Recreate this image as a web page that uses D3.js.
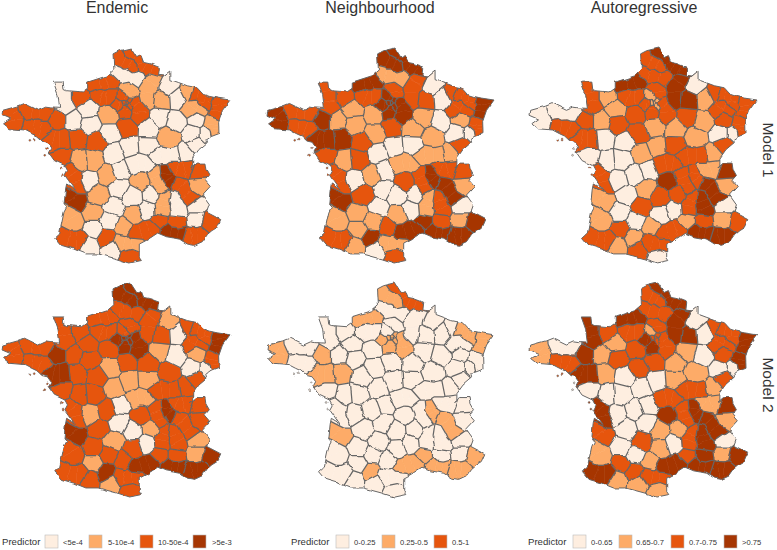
<!DOCTYPE html>
<html>
<head>
<meta charset="utf-8">
<script src="https://cdnjs.cloudflare.com/ajax/libs/d3/7.8.5/d3.min.js"></script>
<style>
  html, body { margin: 0; padding: 0; background: #fff; }
  svg { display: block; font-family: "Liberation Sans", Arial, sans-serif; }
</style>
</head>
<body>
<script>
// department centre points: [id, lon, lat]
const departments = [
  [1,5.35,46.1],[2,3.55,49.55],[3,3.2,46.4],[4,6.25,44.1],[5,6.25,44.65],[6,7.1,43.95],[7,4.4,44.75],[8,4.65,49.6],
  [9,1.5,42.95],[10,4.15,48.3],[11,2.4,43.1],[12,2.7,44.3],[13,5.1,43.55],[14,-0.35,49.1],[15,2.65,45.05],[16,0.2,45.7],
  [17,-0.75,45.8],[18,2.5,47.05],[19,1.9,45.35],[21,4.75,47.45],[22,-2.85,48.45],[23,2.0,46.1],[24,0.75,45.1],[25,6.35,47.15],
  [26,5.15,44.7],[27,1.0,49.1],[28,1.35,48.4],[29,-4.05,48.25],[30,4.2,44.0],[31,1.2,43.35],[32,0.45,43.7],[33,-0.6,44.85],
  [34,3.4,43.6],[35,-1.65,48.15],[36,1.6,46.8],[37,0.7,47.25],[38,5.6,45.25],[39,5.7,46.75],[40,-0.75,44.0],[41,1.4,47.6],
  [42,4.15,45.7],[43,3.8,45.1],[44,-1.7,47.35],[45,2.35,47.9],[46,1.6,44.6],[47,0.45,44.35],[48,3.5,44.5],[49,-0.55,47.4],
  [50,-1.3,49.1],[51,4.25,48.95],[52,5.2,48.1],[53,-0.65,48.15],[54,6.15,48.75],[55,5.35,49.0],[56,-2.8,47.85],[57,6.65,49.05],
  [58,3.5,47.1],[59,3.25,50.4],[60,2.45,49.4],[61,0.1,48.6],[62,2.3,50.5],[63,3.15,45.7],[64,-0.75,43.25],[65,0.15,43.05],
  [66,2.55,42.6],[67,7.55,48.65],[68,7.25,47.85],[69,4.6,45.85],[70,6.1,47.6],[71,4.55,46.65],[72,0.2,48.0],[73,6.45,45.5],
  [74,6.4,46.05],[75,2.35,48.86],[76,1.0,49.65],[77,2.95,48.6],[78,1.85,48.8],[79,-0.35,46.5],[80,2.3,49.95],[81,2.15,43.8],
  [82,1.3,44.05],[83,6.2,43.45],[84,5.2,44.0],[85,-1.3,46.65],[86,0.45,46.55],[87,1.25,45.9],[88,6.35,48.2],[89,3.55,47.85],
  [90,6.95,47.6],[91,2.25,48.5],[92,2.23,48.85],[93,2.47,48.93],[94,2.47,48.77],[95,2.15,49.08]
];

// more points for long or ring shaped departments
const extraPoints = [
  [78,1.98,48.78],[95,2.3,49.03],[77,2.68,48.85],[77,3.0,48.35],[91,2.28,48.66],[60,2.5,49.18],
  [59,2.6,50.9],[59,3.1,50.62],[59,3.5,50.3],[59,4.0,50.1],[62,2.0,50.6],[62,2.7,50.35],
  [50,-1.4,49.5],[50,-1.2,48.75],[40,-1.0,44.3],[33,-0.85,45.1],[17,-0.95,46.0],[17,-0.6,45.45],
  [2,3.55,49.0],[2,3.9,49.85],[38,5.2,45.55],[38,5.95,44.95],[1,5.0,46.2],[1,5.8,46.2],[69,4.65,46.05],[69,4.85,45.65],
  [76,0.6,49.6],[76,1.4,49.75],[27,0.8,49.15],[27,1.4,49.1],[80,1.8,50.05],[80,2.9,49.85],
  [29,-4.3,48.45],[29,-4.0,48.05],[22,-3.3,48.5],[22,-2.4,48.45],[56,-3.2,47.9],[56,-2.4,47.75],[44,-2.0,47.4],[44,-1.3,47.35],
  [64,-1.2,43.35],[64,-0.3,43.25],[11,1.95,43.15],[11,2.85,43.15],[34,2.9,43.5],[34,3.8,43.7],[83,5.85,43.4],[83,6.5,43.45],
  [13,4.7,43.6],[13,5.4,43.5],[54,5.9,49.2],[54,6.0,48.6],[54,6.6,48.6],[57,6.1,49.15],[57,6.9,49.05],[57,6.8,48.8],
  [67,7.5,48.9],[67,7.5,48.4],[68,7.3,48.05],[68,7.3,47.65],[26,5.0,45.0],[26,5.3,44.5],[7,4.55,45.05],[7,4.35,44.55],
  [42,4.0,46.0],[42,4.3,45.4],[3,2.8,46.35],[3,3.6,46.35],[71,4.0,46.6],[71,5.0,46.65]
];

// far away points so every cell is closed
const seaPoints = [[-20,35],[-20,47],[-20,60],[-5,60],[10,60],[25,60],[25,47],[25,35],[10,32],[-5,32]];

// mainland outline lon/lat
const outline = [
  [2.55,51.09],[2.9,50.7],[3.15,50.78],[3.3,50.5],[3.65,50.45],[4.2,50.3],[4.15,49.98],[4.5,49.95],[4.85,50.15],[4.85,49.8],
  [5.3,49.68],[5.8,49.55],[6.35,49.47],[6.7,49.2],[7.05,49.12],[7.5,49.05],[8.23,48.97],[7.8,48.55],[7.58,48.1],[7.6,47.6],
  [7.15,47.48],[6.9,47.35],[6.95,47.25],[6.45,46.95],[6.1,46.6],[6.1,46.25],[5.97,46.2],[6.3,46.4],[6.8,46.4],[6.85,46.15],
  [7.05,45.9],[6.8,45.7],[7.1,45.45],[6.65,45.1],[7.05,44.7],[6.9,44.4],[7.7,44.1],[7.5,43.78],[7.2,43.65],[6.95,43.5],
  [6.65,43.2],[6.2,43.05],[5.8,43.1],[5.35,43.3],[5.0,43.35],[4.6,43.4],[4.1,43.55],[3.5,43.27],[3.05,43.1],[3.05,42.55],
  [3.17,42.43],[2.5,42.33],[1.75,42.5],[0.7,42.7],[0.0,42.7],[-0.7,42.9],[-1.4,43.05],[-1.78,43.37],[-1.5,43.55],[-1.25,44.4],
  [-1.1,44.6],[-1.25,44.7],[-1.17,45.3],[-1.1,45.55],[-0.75,45.4],[-0.6,45.3],[-1.0,45.7],[-1.2,45.9],[-1.05,46.1],[-1.2,46.3],
  [-1.8,46.5],[-2.15,46.85],[-2.0,47.05],[-2.2,47.25],[-2.5,47.3],[-2.8,47.5],[-3.1,47.6],[-3.5,47.75],[-4.35,47.8],[-4.7,48.0],
  [-4.3,48.2],[-4.79,48.35],[-4.75,48.55],[-3.9,48.72],[-3.5,48.83],[-2.7,48.55],[-2.3,48.68],[-2.0,48.65],[-1.5,48.63],[-1.6,49.2],
  [-1.85,49.7],[-1.3,49.7],[-1.25,49.4],[-1.1,49.35],[-0.2,49.3],[0.1,49.45],[0.1,49.7],[1.2,49.95],[1.6,50.2],[1.55,50.85],[1.9,50.98]
];

// islands: [id, lon, lat]
const islands = [[56,-3.2,47.33],[17,-1.4,46.2],[17,-1.3,45.93],[85,-2.35,46.72],[85,-2.25,47.0],[56,-2.95,47.38]];

const endemicM1 = {1:2,2:1,3:0,4:0,5:0,6:2,7:1,8:0,9:0,10:0,11:1,12:1,13:3,14:2,15:0,16:0,17:2,18:0,19:0,21:1,22:2,23:0,24:1,25:0,26:0,27:2,28:1,29:2,30:2,31:2,32:0,33:3,34:2,35:2,36:0,37:2,38:2,39:0,40:1,41:0,42:1,43:0,44:2,45:2,46:0,47:1,48:0,49:2,50:0,51:1,52:0,53:0,54:1,55:0,56:2,57:2,58:0,59:2,60:1,61:0,62:2,63:1,64:2,65:0,66:2,67:2,68:1,69:3,70:0,71:0,72:0,73:1,74:2,75:2,76:2,77:2,78:2,79:1,80:0,81:1,82:0,83:2,84:2,85:2,86:1,87:1,88:0,89:0,90:0,91:2,92:2,93:2,94:2,95:2};
const neighbourhoodM1 = {1:2,2:2,3:1,4:1,5:0,6:3,7:1,8:0,9:0,10:1,11:1,12:1,13:3,14:2,15:0,16:0,17:2,18:0,19:0,21:1,22:2,23:0,24:2,25:2,26:2,27:2,28:1,29:3,30:3,31:3,32:1,33:3,34:3,35:3,36:0,37:2,38:3,39:1,40:1,41:1,42:2,43:0,44:3,45:2,46:0,47:1,48:0,49:3,50:2,51:2,52:0,53:1,54:2,55:0,56:2,57:2,58:0,59:3,60:2,61:1,62:3,63:2,64:2,65:1,66:2,67:3,68:2,69:3,70:0,71:1,72:1,73:1,74:2,75:3,76:3,77:3,78:3,79:1,80:1,81:2,82:1,83:3,84:2,85:2,86:2,87:1,88:1,89:1,90:0,91:3,92:3,93:3,94:3,95:3};
const autoregressiveM1 = {1:1,2:3,3:2,4:1,5:0,6:2,7:2,8:0,9:2,10:2,11:2,12:0,13:3,14:1,15:2,16:0,17:2,18:1,19:1,21:1,22:0,23:0,24:0,25:2,26:3,27:2,28:2,29:0,30:1,31:1,32:2,33:1,34:2,35:2,36:1,37:0,38:3,39:1,40:1,41:2,42:2,43:2,44:2,45:1,46:2,47:0,48:0,49:0,50:2,51:3,52:1,53:1,54:2,55:1,56:2,57:2,58:2,59:3,60:2,61:1,62:2,63:3,64:2,65:1,66:0,67:2,68:2,69:2,70:0,71:2,72:2,73:1,74:3,75:1,76:3,77:2,78:2,79:0,80:2,81:1,82:0,83:3,84:2,85:0,86:0,87:0,88:2,89:1,90:0,91:2,92:1,93:1,94:1,95:1};
const endemicM2 = {1:2,2:2,3:1,4:1,5:1,6:3,7:2,8:1,9:1,10:1,11:2,12:2,13:3,14:2,15:0,16:1,17:2,18:1,19:0,21:2,22:2,23:0,24:2,25:2,26:2,27:2,28:2,29:2,30:2,31:3,32:1,33:3,34:3,35:3,36:1,37:2,38:2,39:2,40:2,41:1,42:2,43:1,44:3,45:2,46:1,47:2,48:0,49:2,50:2,51:2,52:0,53:2,54:2,55:0,56:2,57:2,58:1,59:3,60:2,61:2,62:3,63:2,64:2,65:2,66:2,67:3,68:2,69:3,70:0,71:2,72:2,73:2,74:2,75:3,76:2,77:3,78:3,79:2,80:2,81:2,82:2,83:3,84:2,85:2,86:2,87:2,88:1,89:2,90:0,91:3,92:3,93:3,94:3,95:2};
const neighbourhoodM2 = {1:0,2:0,3:0,4:0,5:0,6:1,7:0,8:0,9:0,10:0,11:0,12:0,13:1,14:0,15:0,16:0,17:0,18:0,19:0,21:0,22:0,23:0,24:0,25:0,26:0,27:0,28:0,29:1,30:1,31:1,32:0,33:1,34:1,35:1,36:0,37:0,38:1,39:0,40:0,41:0,42:0,43:0,44:1,45:0,46:0,47:0,48:0,49:1,50:0,51:0,52:0,53:0,54:0,55:0,56:0,57:1,58:0,59:2,60:0,61:0,62:1,63:0,64:0,65:0,66:0,67:1,68:0,69:1,70:0,71:0,72:0,73:0,74:0,75:1,76:1,77:1,78:1,79:0,80:0,81:0,82:0,83:1,84:0,85:0,86:0,87:0,88:0,89:0,90:0,91:1,92:1,93:1,94:1,95:0};
const autoregressiveM2 = {1:1,2:3,3:2,4:1,5:0,6:3,7:2,8:0,9:1,10:1,11:2,12:1,13:3,14:2,15:1,16:0,17:3,18:0,19:0,21:1,22:0,23:0,24:0,25:2,26:3,27:2,28:2,29:1,30:2,31:2,32:2,33:2,34:3,35:3,36:0,37:0,38:3,39:1,40:1,41:2,42:2,43:1,44:3,45:2,46:2,47:0,48:0,49:1,50:3,51:3,52:0,53:1,54:2,55:0,56:2,57:2,58:1,59:3,60:2,61:1,62:2,63:3,64:3,65:1,66:1,67:3,68:3,69:3,70:0,71:2,72:2,73:1,74:3,75:2,76:3,77:2,78:3,79:0,80:2,81:1,82:0,83:3,84:3,85:0,86:0,87:0,88:2,89:1,90:0,91:3,92:2,93:2,94:2,95:1};

const columnTitles = ["Endemic", "Neighbourhood", "Autoregressive"];
const rowTitles = ["Model 1", "Model 2"];
const legendLabels = [
  ["<5e-4", "5-10e-4", "10-50e-4", ">5e-3"],
  ["0-0.25", "0.25-0.5", "0.5-1"],
  ["0-0.65", "0.65-0.7", "0.7-0.75", ">0.75"]
];
const classColors = ["#feeee0", "#fdab67", "#e6550d", "#a63603"];

const panels = [
  { values: endemicM1, xr: [2, 230], yr: [48, 263] },
  { values: neighbourhoodM1, xr: [267, 494], yr: [48, 263] },
  { values: autoregressiveM1, xr: [530, 757], yr: [48, 263] },
  { values: endemicM2, xr: [2, 230], yr: [283, 497] },
  { values: neighbourhoodM2, xr: [267, 494], yr: [283, 497] },
  { values: autoregressiveM2, xr: [530, 757], yr: [283, 497] }
];

const width = 777;
const height = 550;
const svg = d3.select("body").append("svg").attr("width", width).attr("height", height);
const defs = svg.append("defs");

// rough borders and the soft look of the scan
const rough = defs.append("filter").attr("id", "rough")
  .attr("x", "-5%").attr("y", "-5%").attr("width", "110%").attr("height", "110%");
rough.append("feTurbulence").attr("type", "fractalNoise").attr("baseFrequency", 0.09)
  .attr("numOctaves", 2).attr("seed", 4).attr("result", "n");
rough.append("feDisplacementMap").attr("in", "SourceGraphic").attr("in2", "n")
  .attr("scale", 4).attr("xChannelSelector", "R").attr("yChannelSelector", "G").attr("result", "d");
rough.append("feGaussianBlur").attr("in", "d").attr("stdDeviation", 0.35);

const seeds = departments.concat(extraPoints);

panels.forEach((panel, k) => {
  const x = d3.scaleLinear().domain([-4.79, 8.23]).range(panel.xr);
  const y = d3.scaleLinear().domain([42.33, 51.09]).range([panel.yr[1], panel.yr[0]]);

  const pts = seeds.concat(seaPoints.map((d) => [0, d[0], d[1]]));
  const delaunay = d3.Delaunay.from(pts, (d) => x(d[1]), (d) => y(d[2]));
  const voronoi = delaunay.voronoi([-2000, -2000, 3000, 3000]);
  const outlinePath = d3.line().x((d) => x(d[0])).y((d) => y(d[1])).curve(d3.curveLinearClosed)(outline);

  defs.append("clipPath").attr("id", `land-${k}`).append("path").attr("d", outlinePath);

  const g = svg.append("g").attr("filter", "url(#rough)");
  const land = g.append("g").attr("clip-path", `url(#land-${k})`);

  land.selectAll("path.cell")
    .data(seeds)
    .join("path")
    .attr("class", "cell")
    .attr("d", (d, i) => voronoi.renderCell(i))
    .attr("fill", (d) => classColors[panel.values[d[0]]])
    .attr("stroke", (d) => classColors[panel.values[d[0]]])
    .attr("stroke-width", 0.6);

  // only draw cell edges where the department changes
  const { halfedges, triangles } = delaunay;
  const cc = voronoi.circumcenters;
  const borders = [];
  for (let e = 0; e < halfedges.length; e++) {
    const o = halfedges[e];
    if (o < e) continue;
    const a = pts[triangles[e]][0];
    const b = pts[triangles[o]][0];
    if (a === b || a === 0 || b === 0) continue;
    const t1 = Math.floor(e / 3);
    const t2 = Math.floor(o / 3);
    borders.push(`M${cc[t1 * 2]},${cc[t1 * 2 + 1]}L${cc[t2 * 2]},${cc[t2 * 2 + 1]}`);
  }
  land.append("path").attr("d", borders.join("")).attr("fill", "none")
    .attr("stroke", "#666").attr("stroke-width", 1.25);

  g.append("path").attr("d", outlinePath).attr("fill", "none")
    .attr("stroke", "#666").attr("stroke-width", 1);

  g.selectAll("circle.island")
    .data(islands)
    .join("circle")
    .attr("class", "island")
    .attr("cx", (d) => x(d[1]))
    .attr("cy", (d) => y(d[2]))
    .attr("r", 0.9)
    .attr("fill", (d) => classColors[panel.values[d[0]]])
    .attr("stroke", "#666")
    .attr("stroke-width", 0.6);
});

// column and row titles
const titleX = [117, 380, 644];
svg.selectAll("text.col")
  .data(columnTitles)
  .join("text")
  .attr("class", "col")
  .attr("x", (d, i) => titleX[i])
  .attr("y", 13)
  .attr("text-anchor", "middle")
  .attr("font-size", 16)
  .attr("fill", "#333")
  .text((d) => d);

const rowY = [150, 385];
svg.selectAll("text.row")
  .data(rowTitles)
  .join("text")
  .attr("class", "row")
  .attr("transform", (d, i) => `translate(763,${rowY[i]}) rotate(90)`)
  .attr("text-anchor", "middle")
  .attr("font-size", 15.5)
  .attr("fill", "#333")
  .text((d) => d);

// legends
const legendTitleX = [2, 291, 528];
const swatchX = [[45, 89, 140, 193], [336, 382, 434], [573, 619, 671, 724]];
const labelX = [[63, 108, 158, 212], [354, 400, 452], [591, 636, 689, 742]];

legendLabels.forEach((labels, c) => {
  const lg = svg.append("g");
  lg.append("text").attr("x", legendTitleX[c]).attr("y", 545)
    .attr("font-size", 9.6).attr("fill", "#333").text("Predictor");
  lg.selectAll("rect")
    .data(labels)
    .join("rect")
    .attr("x", (d, i) => swatchX[c][i])
    .attr("y", 535)
    .attr("width", 13)
    .attr("height", 13)
    .attr("fill", (d, i) => classColors[i])
    .attr("stroke", "#bbb")
    .attr("stroke-width", 0.6);
  lg.selectAll("text.lab")
    .data(labels)
    .join("text")
    .attr("class", "lab")
    .attr("x", (d, i) => labelX[c][i])
    .attr("y", 544.5)
    .attr("font-size", 7.6)
    .attr("fill", "#333")
    .text((d) => d);
});
</script>
</body>
</html>
